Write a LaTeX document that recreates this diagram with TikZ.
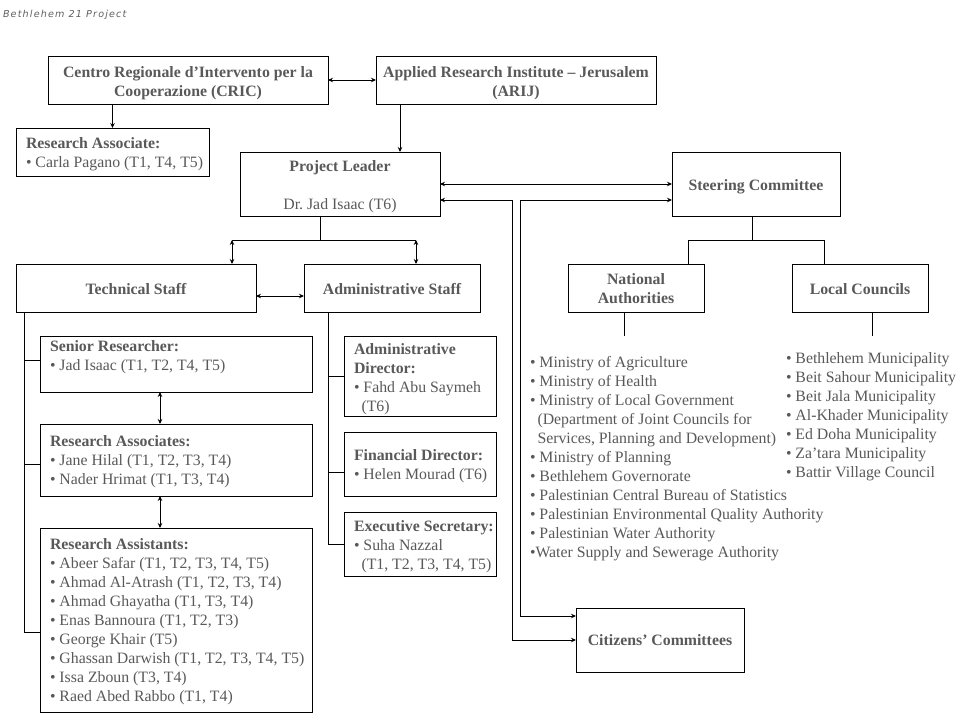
\documentclass[tikz,border=0pt]{standalone}
\usepackage{fontspec}
\setmainfont{Liberation Serif}
\newfontfamily\titlefont[LetterSpace=12]{DejaVu Sans}
\usetikzlibrary{arrows.meta,calc}
\definecolor{txt}{HTML}{595959}
\definecolor{ttl}{HTML}{606060}
\newcommand{\lines}[1]{\begin{tabular}[t]{@{}l@{}}#1\end{tabular}}
\newcommand{\clines}[1]{\begin{tabular}[t]{@{}c@{}}#1\end{tabular}}
\newcommand{\bul}{\textbullet\ }
\newcommand{\ind}{\hspace*{7.5pt}}
\frenchspacing
\begin{document}
\begin{tikzpicture}[x=1pt,y=-1pt,line width=1pt,
  >={Stealth[length=5pt,width=4.5pt]},
  box/.style={draw=black,inner sep=0pt,outer sep=0pt},
  tx/.style={inner sep=0pt,outer sep=0pt,text=txt,font=\fontsize{15.8}{19}\selectfont},
  txb/.style={tx,font=\fontsize{15.8}{19}\selectfont\bfseries}]
\fill[white] (0,0) rectangle (960,720);
\useasboundingbox (0,0) rectangle (960,720);

% boxes
\node[box,minimum width=280pt,minimum height=48pt] (cric) at (188,80) {};
\node[box,minimum width=280pt,minimum height=48pt] (arij) at (516,80) {};
\node[box,minimum width=193pt,minimum height=48pt] (ra1) at (112.5,152) {};
\node[box,minimum width=200pt,minimum height=64pt] (pl) at (340,184) {};
\node[box,minimum width=168pt,minimum height=64pt] (sc) at (756,184) {};
\node[box,minimum width=136pt,minimum height=48pt] (na) at (636,288) {};
\node[box,minimum width=136pt,minimum height=48pt] (lc) at (860,288) {};
\node[box,minimum width=240pt,minimum height=48pt] (ts) at (136,288) {};
\node[box,minimum width=176pt,minimum height=48pt] (as) at (392,288) {};
\node[box,minimum width=272pt,minimum height=56pt] (sr) at (176,364) {};
\node[box,minimum width=272pt,minimum height=72pt] (rassoc) at (176,460) {};
\node[box,minimum width=272pt,minimum height=184pt] (rassist) at (176,620) {};
\node[box,minimum width=152pt,minimum height=80pt] (ad) at (420,376) {};
\node[box,minimum width=152pt,minimum height=64pt] (fd) at (420,464) {};
\node[box,minimum width=152pt,minimum height=64pt] (es) at (420,544) {};
\node[box,minimum width=168pt,minimum height=64pt] (cc) at (660,640) {};

% connectors
\draw[<->] (cric.east) -- (arij.west);
\draw[->] (cric.south -| ra1.north) -- (ra1.north);
\coordinate (ap) at (400,0);
\draw[->] (arij.south -| ap) -- (pl.north -| ap);
\draw[<->] (pl.east) -- (sc.west);

\coordinate (plx) at (320,240);
\coordinate (brL) at (232,240);
\coordinate (brR) at (416,240);
\draw (pl.south -| plx) -- (plx);
\draw (brL) -- (brR);
\draw[<->] (brL) -- (ts.north -| brL);
\draw[<->] (brR) -- (as.north -| brR);

\coordinate (tsa) at (0,296);
\draw[<->] (ts.east |- tsa) -- (as.west |- tsa);

\coordinate (tsb) at (24,632);
\draw (ts.south -| tsb) -- (tsb) -- (rassist.west |- tsb);
\coordinate (srk) at (24,360);
\draw (srk) -- (sr.west |- srk);
\coordinate (rak) at (24,464);
\draw (rak) -- (rassoc.west |- rak);

\coordinate (asb) at (328,544);
\draw (as.south -| asb) -- (asb) -- (es.west |- asb);
\coordinate (adk) at (328,376);
\draw (adk) -- (ad.west |- adk);
\coordinate (fdk) at (328,472);
\draw (fdk) -- (fd.west |- fdk);

\coordinate (vx) at (160,0);
\draw[<->] (sr.south -| vx) -- (rassoc.north -| vx);
\draw[<->] (rassoc.south -| vx) -- (rassist.north -| vx);

\coordinate (scb) at (752,240);
\coordinate (scL) at (688,240);
\coordinate (scR) at (824,240);
\draw (sc.south -| scb) -- (scb);
\draw (scL) -- (scR);
\draw (scL) -- (na.north -| scL);
\draw (scR) -- (lc.north -| scR);
\coordinate (nad) at (624,336);
\draw (na.south -| nad) -- (nad);
\coordinate (lcd) at (872,336);
\draw (lc.south -| lcd) -- (lcd);

\coordinate (o1) at (512,200);
\coordinate (o2) at (512,640);
\draw[<->] (pl.east |- o1) -- (o1) -- (o2) -- (cc.west |- o2);
\coordinate (i1) at (520,200);
\coordinate (i2) at (520,616);
\draw[<->] (sc.west |- i1) -- (i1) -- (i2) -- (cc.west |- i2);

% texts
\node[tx,anchor=base west,text=ttl,font=\titlefont\itshape\fontsize{9.6}{11}\selectfont] (title) at (3,17) {Bethlehem 21 Project};
\node[txb,anchor=base] (tcric) at (188,77) {\clines{Centro Regionale d’Intervento per la\\Cooperazione (CRIC)}};
\node[txb,anchor=base] (tarij) at (516,77) {\clines{Applied Research Institute – Jerusalem\\(ARIJ)}};
\node[tx,anchor=base west] (tra1) at (26,148) {\lines{\textbf{Research Associate:}\\\bul Carla Pagano (T1, T4, T5)}};
\node[tx,anchor=base] (tpl) at (340,171) {\clines{\textbf{Project Leader}\\ \\Dr. Jad Isaac (T6)}};
\node[txb,anchor=base] (tsc) at (756,190) {Steering Committee};
\node[txb,anchor=base] (tna) at (636,284) {\clines{National\\Authorities}};
\node[txb,anchor=base] (tlc) at (860,294) {Local Councils};
\node[txb,anchor=base] (tts) at (136,294) {Technical Staff};
\node[txb,anchor=base] (tas) at (392,294) {Administrative Staff};
\node[tx,anchor=base west] (tsr) at (50,351) {\lines{\textbf{Senior Researcher:}\\\bul Jad Isaac (T1, T2, T4, T5)}};
\node[tx,anchor=base west] (trassoc) at (50,446) {\lines{\textbf{Research Associates:}\\\bul Jane Hilal (T1, T2, T3, T4)\\\bul Nader Hrimat (T1, T3, T4)}};
\node[tx,anchor=base west] (trassist) at (50,549) {\lines{\textbf{Research Assistants:}\\\bul Abeer Safar (T1, T2, T3, T4, T5)\\\bul Ahmad Al-Atrash (T1, T2, T3, T4)\\\bul Ahmad Ghayatha (T1, T3, T4)\\\bul Enas Bannoura (T1, T2, T3)\\\bul George Khair (T5)\\\bul Ghassan Darwish (T1, T2, T3, T4, T5)\\\bul Issa Zboun (T3, T4)\\\bul Raed Abed Rabbo (T1, T4)}};
\node[tx,anchor=base west] (tad) at (354,354) {\lines{\textbf{Administrative}\\\textbf{Director:}\\\bul Fahd Abu Saymeh\\\ind(T6)}};
\node[tx,anchor=base west] (tfd) at (354,460) {\lines{\textbf{Financial Director:}\\\bul Helen Mourad (T6)}};
\node[tx,anchor=base west] (tes) at (354,531) {\lines{\textbf{Executive Secretary:}\\\bul Suha Nazzal\\\ind(T1, T2, T3, T4, T5)}};
\node[tx,anchor=base west] (tnal) at (530,367) {\lines{\bul Ministry of Agriculture\\\bul Ministry of Health\\\bul Ministry of Local Government\\\ind(Department of Joint Councils for\\\ind Services, Planning and Development)\\\bul Ministry of Planning\\\bul Bethlehem Governorate\\\bul Palestinian Central Bureau of Statistics\\\bul Palestinian Environmental Quality Authority\\\bul Palestinian Water Authority\\\textbullet Water Supply and Sewerage Authority}};
\node[tx,anchor=base west] (tlcl) at (786,363) {\lines{\bul Bethlehem Municipality\\\bul Beit Sahour Municipality\\\bul Beit Jala Municipality\\\bul Al-Khader Municipality\\\bul Ed Doha Municipality\\\bul Za’tara Municipality\\\bul Battir Village Council}};
\node[txb,anchor=base] (tcc) at (660,645) {Citizens’ Committees};
\end{tikzpicture}
\end{document}
